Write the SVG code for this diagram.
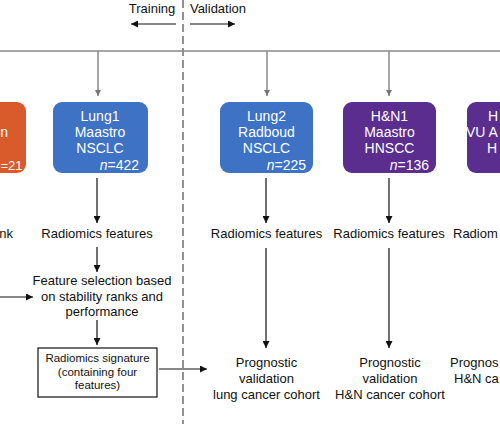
<svg xmlns="http://www.w3.org/2000/svg" width="500" height="424" viewBox="0 0 500 424">
<style>
text{font-family:"Liberation Sans",Arial,sans-serif;fill:#111}
.lbl{font-size:13px;text-anchor:middle}
.box text{fill:#fff;font-size:14px;text-anchor:middle}
.box text.n{text-anchor:end}
.box text.s{text-anchor:start}
.sig{font-size:11.5px;text-anchor:middle}
.blk{stroke:#111;stroke-width:1.2;fill:none}
.gry{stroke:#888;stroke-width:1.5;fill:none}
</style>
<defs>
<marker id="ah" viewBox="0 0 10 10" refX="10" refY="5" markerWidth="7" markerHeight="7" markerUnits="userSpaceOnUse" orient="auto"><path d="M0,0L10,5L0,10z" fill="#111"/></marker>
<marker id="ahg" viewBox="0 0 10 10" refX="10" refY="5" markerWidth="6" markerHeight="6" markerUnits="userSpaceOnUse" orient="auto"><path d="M0,0L10,5L0,10z" fill="#777"/></marker>
</defs>
<rect width="500" height="424" fill="#fff"/>

<g id="header">
<text x="152" y="13" style="font-size:13px;text-anchor:middle">Training</text>
<text x="218" y="13" style="font-size:13px;text-anchor:middle">Validation</text>
</g>

<g id="connectors">
<line x1="183" y1="0" x2="183" y2="424" stroke="#777" stroke-width="1.6" stroke-dasharray="8,4"/>
<line class="blk" x1="176" y1="24" x2="131" y2="24" marker-end="url(#ah)"/>
<line class="blk" x1="190" y1="24" x2="235" y2="24" marker-end="url(#ah)"/>
<line class="gry" x1="0" y1="51" x2="500" y2="51"/>
<line class="gry" x1="98" y1="51" x2="98" y2="96" marker-end="url(#ahg)"/>
<line class="gry" x1="267" y1="51" x2="267" y2="96" marker-end="url(#ahg)"/>
<line class="gry" x1="389" y1="51" x2="389" y2="96" marker-end="url(#ahg)"/>
<line class="blk" x1="97" y1="178" x2="97" y2="223" marker-end="url(#ah)"/>
<line class="blk" x1="266" y1="178" x2="266" y2="223" marker-end="url(#ah)"/>
<line class="blk" x1="389" y1="178" x2="389" y2="223" marker-end="url(#ah)"/>
<line class="blk" x1="97" y1="247" x2="97" y2="272" marker-end="url(#ah)"/>
<line class="blk" x1="0" y1="297" x2="33" y2="297" marker-end="url(#ah)"/>
<line class="blk" x1="97" y1="320" x2="97" y2="345" marker-end="url(#ah)"/>
<line class="blk" x1="159" y1="369" x2="207" y2="369" marker-end="url(#ah)"/>
<line class="blk" x1="266" y1="248" x2="266" y2="348" marker-end="url(#ah)"/>
<line class="blk" x1="389" y1="248" x2="389" y2="348" marker-end="url(#ah)"/>
</g>

<g id="orange" class="box">
<rect x="-70" y="102" width="96" height="71" rx="9" fill="#d95a2b"/>
<text x="8" y="137" class="n">n</text>
<text x="0.5" y="170" class="s" style="font-size:13px">=21</text>
</g>
<g id="lung1" class="box">
<rect x="53" y="102" width="95" height="71" rx="9" fill="#3d72c4"/>
<text x="100" y="121">Lung1</text>
<text x="100" y="137">Maastro</text>
<text x="100" y="153">NSCLC</text>
<text x="139" y="170" class="n"><tspan font-style="italic">n</tspan>=422</text>
</g>
<g id="lung2" class="box">
<rect x="220" y="102" width="93" height="71" rx="9" fill="#3d72c4"/>
<text x="266.5" y="121">Lung2</text>
<text x="266.5" y="137">Radboud</text>
<text x="266.5" y="153">NSCLC</text>
<text x="306" y="170" class="n"><tspan font-style="italic">n</tspan>=225</text>
</g>
<g id="hn1" class="box">
<rect x="343" y="102" width="93" height="71" rx="9" fill="#5a2d8f"/>
<text x="389.5" y="121">H&amp;N1</text>
<text x="389.5" y="137">Maastro</text>
<text x="389.5" y="153">HNSCC</text>
<text x="429" y="170" class="n"><tspan font-style="italic">n</tspan>=136</text>
</g>
<g id="hn2" class="box">
<rect x="467" y="102" width="95" height="71" rx="9" fill="#5a2d8f"/>
<text x="488" y="121" class="s">H</text>
<text x="466" y="137" class="s">VU A</text>
<text x="487" y="153" class="s">H</text>
</g>

<g id="feat-left"><text x="13" y="238" style="font-size:13px;text-anchor:end">nk</text></g>
<g id="feat1"><text class="lbl" x="97" y="238">Radiomics features</text></g>
<g id="feat2"><text class="lbl" x="266.5" y="238">Radiomics features</text></g>
<g id="feat3"><text class="lbl" x="389" y="238">Radiomics features</text></g>
<g id="feat4"><text x="453" y="238" style="font-size:13px">Radiom</text></g>

<g id="selection">
<text class="lbl" x="102" y="285">Feature selection based</text>
<text class="lbl" x="102" y="300.5">on stability ranks and</text>
<text class="lbl" x="102" y="316">performance</text>
</g>

<g id="signature">
<rect x="38" y="348" width="119" height="49" fill="#fff" stroke="#111" stroke-width="1.2"/>
<text class="sig" x="97.5" y="362">Radiomics signature</text>
<text class="sig" x="97.5" y="375.5">(containing four</text>
<text class="sig" x="97.5" y="389">features)</text>
</g>

<g id="val-lung">
<text class="lbl" x="266.5" y="367">Prognostic</text>
<text class="lbl" x="266.5" y="383">validation</text>
<text class="lbl" x="266.5" y="399">lung cancer cohort</text>
</g>
<g id="val-hn1">
<text class="lbl" x="390" y="367">Prognostic</text>
<text class="lbl" x="390" y="383">validation</text>
<text class="lbl" x="390" y="399">H&amp;N cancer cohort</text>
</g>
<g id="val-hn2">
<text x="450" y="367" style="font-size:13px">Prognos</text>
<text x="454" y="383" style="font-size:13px">H&amp;N ca</text>
</g>
</svg>
